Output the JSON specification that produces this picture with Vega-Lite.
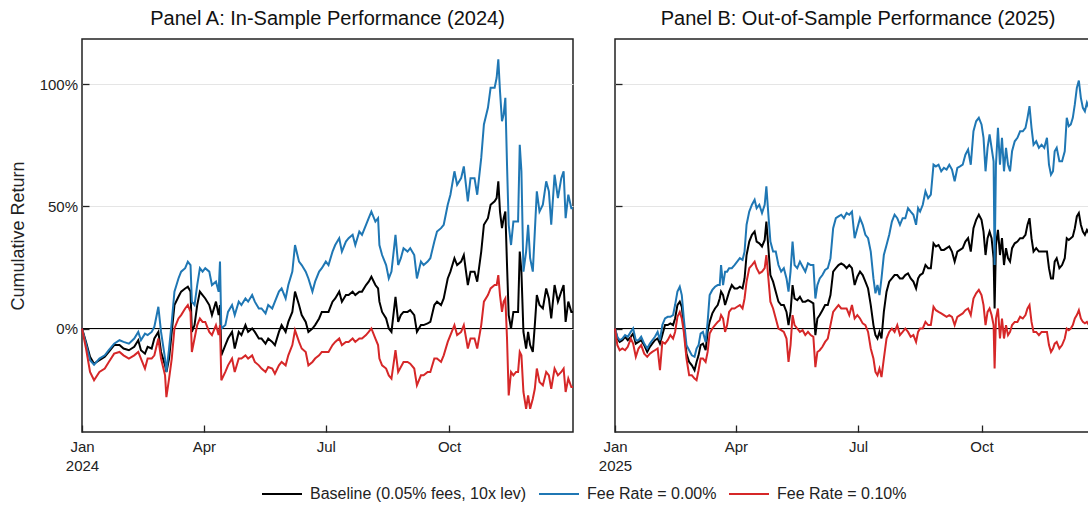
{
  "$schema": "https://vega.github.io/schema/vega-lite/v6.json",
  "padding": {"left": 8, "top": 8, "right": 0, "bottom": 0},
  "config": {
    "font": "Liberation Sans",
    "view": {"stroke": "#222222", "strokeWidth": 1.5},
    "axis": {"labelFont": "Liberation Sans", "labelFontSize": 15, "labelColor": "#222222", "titleFont": "Liberation Sans", "titleFontSize": 18, "titleFontWeight": "normal", "titleColor": "#222222", "tickColor": "#222222", "tickSize": -7, "tickWidth": 1.3, "domain": false, "gridColor": "#e5e5e5", "gridWidth": 1},
    "axisY": {"labelPadding": 11.5},
    "axisX": {"labelPadding": 14, "labelLineHeight": 19, "labelFlush": false},
    "title": {"font": "Liberation Sans", "fontSize": 20, "fontWeight": "normal", "color": "#111111", "anchor": "middle", "offset": 10},
    "legend": {"symbolType": "stroke", "symbolSize": 1600, "symbolStrokeWidth": 2, "labelFont": "Liberation Sans", "labelFontSize": 16, "labelColor": "#222222", "labelOffset": 7, "columnPadding": 8, "labelLimit": 400},
    "concat": {"spacing": 19}
  },
  "datasets": {
    "a": [
      {"t":"2024-01-01T00:00","base":0,"fee0":0,"fee10":0},
      {"t":"2024-01-04T00:00","base":-5.5,"fee0":-6.2,"fee10":-8.2},
      {"t":"2024-01-07T00:00","base":-11.6,"fee0":-13.0,"fee10":-17.8},
      {"t":"2024-01-10T00:00","base":-14.4,"fee0":-14.8,"fee10":-21.2},
      {"t":"2024-01-14T00:00","base":-13.0,"fee0":-12.3,"fee10":-17.8},
      {"t":"2024-01-18T00:00","base":-11.6,"fee0":-11.0,"fee10":-16.4},
      {"t":"2024-01-21T00:00","base":-9.6,"fee0":-8.9,"fee10":-13.7},
      {"t":"2024-01-25T00:00","base":-6.8,"fee0":-6.2,"fee10":-10.3},
      {"t":"2024-01-29T00:00","base":-6.8,"fee0":-4.8,"fee10":-9.6},
      {"t":"2024-02-01T00:00","base":-8.2,"fee0":-5.5,"fee10":-11.0},
      {"t":"2024-02-05T00:00","base":-8.9,"fee0":-6.2,"fee10":-12.3},
      {"t":"2024-02-09T00:00","base":-7.5,"fee0":-4.1,"fee10":-11.0},
      {"t":"2024-02-12T00:00","base":-4.8,"fee0":-1.4,"fee10":-9.6},
      {"t":"2024-02-14T00:00","base":-8.9,"fee0":-4.8,"fee10":-12.3},
      {"t":"2024-02-17T00:00","base":-10.3,"fee0":-2.1,"fee10":-16.4},
      {"t":"2024-02-19T00:00","base":-7.5,"fee0":-2.7,"fee10":-12.3},
      {"t":"2024-02-22T00:00","base":-8.2,"fee0":-1.4,"fee10":-12.3},
      {"t":"2024-02-24T00:00","base":-4.1,"fee0":0.7,"fee10":-11.0},
      {"t":"2024-02-27T00:00","base":-1.4,"fee0":8.9,"fee10":-4.1},
      {"t":"2024-02-29T00:00","base":-9.6,"fee0":-1.4,"fee10":-12.3},
      {"t":"2024-03-03T00:00","base":-15.1,"fee0":-12.3,"fee10":-19.2},
      {"t":"2024-03-04T00:00","base":-17.8,"fee0":-17.8,"fee10":-28.1},
      {"t":"2024-03-06T00:00","base":-12.3,"fee0":-8.2,"fee10":-20.5},
      {"t":"2024-03-08T00:00","base":-1.4,"fee0":2.7,"fee10":-12.3},
      {"t":"2024-03-10T00:00","base":9.6,"fee0":15.1,"fee10":0},
      {"t":"2024-03-13T00:00","base":13.0,"fee0":20.5,"fee10":4.1},
      {"t":"2024-03-15T00:00","base":15.1,"fee0":23.3,"fee10":5.5},
      {"t":"2024-03-18T00:00","base":16.4,"fee0":24.7,"fee10":8.2},
      {"t":"2024-03-20T00:00","base":17.1,"fee0":27.4,"fee10":9.6},
      {"t":"2024-03-22T00:00","base":15.1,"fee0":26.0,"fee10":6.8},
      {"t":"2024-03-23T00:00","base":-1.4,"fee0":11.0,"fee10":-9.6},
      {"t":"2024-03-25T00:00","base":1.4,"fee0":9.6,"fee10":-4.1},
      {"t":"2024-03-27T00:00","base":9.6,"fee0":17.8,"fee10":1.4},
      {"t":"2024-03-29T00:00","base":15.1,"fee0":24.7,"fee10":4.1},
      {"t":"2024-03-31T00:00","base":13.7,"fee0":23.3,"fee10":2.7},
      {"t":"2024-04-02T00:00","base":12.3,"fee0":24.7,"fee10":2.7},
      {"t":"2024-04-05T00:00","base":9.6,"fee0":23.3,"fee10":-1.4},
      {"t":"2024-04-07T00:00","base":5.5,"fee0":17.8,"fee10":-2.7},
      {"t":"2024-04-10T00:00","base":11.0,"fee0":19.2,"fee10":1.4},
      {"t":"2024-04-12T00:00","base":5.5,"fee0":15.1,"fee10":-2.7},
      {"t":"2024-04-13T00:00","base":9.6,"fee0":27.4,"fee10":1.4},
      {"t":"2024-04-14T00:00","base":-11.0,"fee0":0,"fee10":-21.2},
      {"t":"2024-04-17T00:00","base":-6.8,"fee0":1.4,"fee10":-17.8},
      {"t":"2024-04-19T00:00","base":-4.1,"fee0":6.8,"fee10":-15.1},
      {"t":"2024-04-22T00:00","base":-1.4,"fee0":9.6,"fee10":-12.3},
      {"t":"2024-04-24T00:00","base":-8.2,"fee0":5.5,"fee10":-17.8},
      {"t":"2024-04-27T00:00","base":-1.4,"fee0":11.0,"fee10":-12.3},
      {"t":"2024-04-29T00:00","base":-2.7,"fee0":9.6,"fee10":-12.3},
      {"t":"2024-05-02T00:00","base":1.4,"fee0":12.3,"fee10":-11.0},
      {"t":"2024-05-04T00:00","base":-1.4,"fee0":11.0,"fee10":-12.3},
      {"t":"2024-05-07T00:00","base":0,"fee0":13.7,"fee10":-11.0},
      {"t":"2024-05-09T00:00","base":-1.4,"fee0":11.0,"fee10":-13.7},
      {"t":"2024-05-12T00:00","base":-4.1,"fee0":8.2,"fee10":-15.1},
      {"t":"2024-05-14T00:00","base":-4.1,"fee0":8.2,"fee10":-16.4},
      {"t":"2024-05-17T00:00","base":-6.2,"fee0":6.2,"fee10":-17.8},
      {"t":"2024-05-19T00:00","base":-4.1,"fee0":9.6,"fee10":-15.8},
      {"t":"2024-05-22T00:00","base":-5.5,"fee0":8.2,"fee10":-16.4},
      {"t":"2024-05-24T00:00","base":-6.8,"fee0":11.0,"fee10":-18.5},
      {"t":"2024-05-27T00:00","base":-1.4,"fee0":15.1,"fee10":-15.1},
      {"t":"2024-05-29T00:00","base":1.4,"fee0":16.4,"fee10":-13.7},
      {"t":"2024-06-01T00:00","base":-1.4,"fee0":12.3,"fee10":-15.1},
      {"t":"2024-06-03T00:00","base":2.7,"fee0":17.8,"fee10":-11.0},
      {"t":"2024-06-06T00:00","base":6.8,"fee0":23.3,"fee10":-6.8},
      {"t":"2024-06-08T00:00","base":15.1,"fee0":34.2,"fee10":-0.7},
      {"t":"2024-06-11T00:00","base":9.6,"fee0":27.4,"fee10":-5.5},
      {"t":"2024-06-13T00:00","base":5.5,"fee0":26.0,"fee10":-8.2},
      {"t":"2024-06-16T00:00","base":2.7,"fee0":23.3,"fee10":-9.6},
      {"t":"2024-06-18T00:00","base":-1.4,"fee0":20.5,"fee10":-15.1},
      {"t":"2024-06-21T00:00","base":0,"fee0":15.1,"fee10":-13.7},
      {"t":"2024-06-23T00:00","base":1.4,"fee0":19.2,"fee10":-12.3},
      {"t":"2024-06-26T00:00","base":4.1,"fee0":23.3,"fee10":-11.0},
      {"t":"2024-06-28T00:00","base":6.8,"fee0":24.7,"fee10":-9.6},
      {"t":"2024-07-01T00:00","base":6.8,"fee0":27.4,"fee10":-9.6},
      {"t":"2024-07-03T00:00","base":6.8,"fee0":26.0,"fee10":-9.6},
      {"t":"2024-07-06T00:00","base":11.0,"fee0":31.5,"fee10":-6.8},
      {"t":"2024-07-08T00:00","base":12.3,"fee0":34.2,"fee10":-5.5},
      {"t":"2024-07-11T00:00","base":15.1,"fee0":37.0,"fee10":-4.1},
      {"t":"2024-07-13T00:00","base":11.0,"fee0":31.5,"fee10":-6.8},
      {"t":"2024-07-16T00:00","base":13.7,"fee0":35.6,"fee10":-5.5},
      {"t":"2024-07-18T00:00","base":13.7,"fee0":37.0,"fee10":-5.5},
      {"t":"2024-07-21T00:00","base":15.1,"fee0":38.4,"fee10":-4.1},
      {"t":"2024-07-23T00:00","base":13.7,"fee0":34.2,"fee10":-5.5},
      {"t":"2024-07-26T00:00","base":15.1,"fee0":39.7,"fee10":-4.1},
      {"t":"2024-07-28T00:00","base":15.1,"fee0":38.4,"fee10":-4.1},
      {"t":"2024-07-31T00:00","base":17.8,"fee0":42.5,"fee10":-2.7},
      {"t":"2024-08-02T00:00","base":19.2,"fee0":45.2,"fee10":-1.4},
      {"t":"2024-08-04T00:00","base":21.2,"fee0":47.9,"fee10":0},
      {"t":"2024-08-07T00:00","base":17.8,"fee0":43.8,"fee10":-4.1},
      {"t":"2024-08-09T00:00","base":16.4,"fee0":45.2,"fee10":-6.8},
      {"t":"2024-08-10T00:00","base":11.0,"fee0":34.2,"fee10":-12.3},
      {"t":"2024-08-12T00:00","base":6.8,"fee0":30.1,"fee10":-15.1},
      {"t":"2024-08-15T00:00","base":4.1,"fee0":26.0,"fee10":-16.4},
      {"t":"2024-08-17T00:00","base":0,"fee0":20.5,"fee10":-19.2},
      {"t":"2024-08-19T00:00","base":-1.4,"fee0":23.3,"fee10":-20.5},
      {"t":"2024-08-22T00:00","base":13.0,"fee0":38.4,"fee10":-8.9},
      {"t":"2024-08-24T00:00","base":2.7,"fee0":26.0,"fee10":-17.8},
      {"t":"2024-08-26T00:00","base":5.5,"fee0":28.8,"fee10":-15.8},
      {"t":"2024-08-28T00:00","base":6.8,"fee0":32.9,"fee10":-13.7},
      {"t":"2024-08-31T00:00","base":6.8,"fee0":31.5,"fee10":-13.7},
      {"t":"2024-09-02T00:00","base":7.5,"fee0":32.9,"fee10":-14.4},
      {"t":"2024-09-05T00:00","base":5.5,"fee0":30.1,"fee10":-16.4},
      {"t":"2024-09-07T00:00","base":-1.4,"fee0":20.5,"fee10":-23.3},
      {"t":"2024-09-10T00:00","base":1.4,"fee0":27.4,"fee10":-19.2},
      {"t":"2024-09-12T00:00","base":1.4,"fee0":26.0,"fee10":-19.2},
      {"t":"2024-09-15T00:00","base":2.1,"fee0":27.4,"fee10":-17.8},
      {"t":"2024-09-17T00:00","base":2.7,"fee0":28.8,"fee10":-17.8},
      {"t":"2024-09-20T00:00","base":9.6,"fee0":35.6,"fee10":-12.3},
      {"t":"2024-09-22T00:00","base":11.0,"fee0":39.7,"fee10":-12.3},
      {"t":"2024-09-25T00:00","base":9.6,"fee0":41.1,"fee10":-13.7},
      {"t":"2024-09-27T00:00","base":12.3,"fee0":42.5,"fee10":-11.0},
      {"t":"2024-09-30T00:00","base":20.5,"fee0":50.7,"fee10":-5.5},
      {"t":"2024-10-02T00:00","base":23.3,"fee0":54.8,"fee10":-2.7},
      {"t":"2024-10-05T00:00","base":28.8,"fee0":64.4,"fee10":1.4},
      {"t":"2024-10-07T00:00","base":26.0,"fee0":58.9,"fee10":-2.7},
      {"t":"2024-10-10T00:00","base":27.4,"fee0":61.6,"fee10":-1.4},
      {"t":"2024-10-12T00:00","base":30.1,"fee0":66.4,"fee10":1.4},
      {"t":"2024-10-15T00:00","base":17.8,"fee0":52.1,"fee10":-8.2},
      {"t":"2024-10-17T00:00","base":23.3,"fee0":61.6,"fee10":-4.1},
      {"t":"2024-10-20T00:00","base":23.3,"fee0":61.6,"fee10":-4.1},
      {"t":"2024-10-22T00:00","base":19.2,"fee0":54.8,"fee10":-8.2},
      {"t":"2024-10-25T00:00","base":31.5,"fee0":69.9,"fee10":1.4},
      {"t":"2024-10-27T00:00","base":42.5,"fee0":83.6,"fee10":11.0},
      {"t":"2024-10-30T00:00","base":45.2,"fee0":90.4,"fee10":13.7},
      {"t":"2024-11-01T00:00","base":50.7,"fee0":98.6,"fee10":16.4},
      {"t":"2024-11-04T00:00","base":52.1,"fee0":98.6,"fee10":17.8},
      {"t":"2024-11-05T12:00","base":53.4,"fee0":102.7,"fee10":17.8},
      {"t":"2024-11-06T18:00","base":60.3,"fee0":110.3,"fee10":21.9},
      {"t":"2024-11-08T00:00","base":47.9,"fee0":97.3,"fee10":13.7},
      {"t":"2024-11-09T12:00","base":41.1,"fee0":84.9,"fee10":6.8},
      {"t":"2024-11-10T18:00","base":45.2,"fee0":87.7,"fee10":11.0},
      {"t":"2024-11-12T00:00","base":47.9,"fee0":94.5,"fee10":12.3},
      {"t":"2024-11-13T06:00","base":26.0,"fee0":67.1,"fee10":-4.1},
      {"t":"2024-11-14T12:00","base":5.5,"fee0":42.5,"fee10":-27.4},
      {"t":"2024-11-16T06:00","base":0,"fee0":34.2,"fee10":-17.8},
      {"t":"2024-11-18T00:00","base":6.8,"fee0":43.8,"fee10":-19.2},
      {"t":"2024-11-20T00:00","base":6.8,"fee0":43.8,"fee10":-17.8},
      {"t":"2024-11-21T12:00","base":6.8,"fee0":43.8,"fee10":-17.8},
      {"t":"2024-11-22T18:00","base":31.5,"fee0":75.3,"fee10":-9.6},
      {"t":"2024-11-24T00:00","base":23.3,"fee0":64.4,"fee10":-11.0},
      {"t":"2024-11-25T12:00","base":-1.4,"fee0":23.3,"fee10":-26.0},
      {"t":"2024-11-27T12:00","base":-8.2,"fee0":31.5,"fee10":-32.9},
      {"t":"2024-11-29T00:00","base":-1.4,"fee0":42.5,"fee10":-27.4},
      {"t":"2024-11-30T12:00","base":-6.8,"fee0":28.8,"fee10":-32.9},
      {"t":"2024-12-02T12:00","base":-9.6,"fee0":23.3,"fee10":-28.8},
      {"t":"2024-12-04T00:00","base":1.4,"fee0":39.7,"fee10":-24.7},
      {"t":"2024-12-05T12:00","base":13.7,"fee0":56.2,"fee10":-16.4},
      {"t":"2024-12-07T12:00","base":9.6,"fee0":47.9,"fee10":-21.9},
      {"t":"2024-12-10T00:00","base":8.2,"fee0":50.7,"fee10":-23.3},
      {"t":"2024-12-12T12:00","base":16.4,"fee0":60.3,"fee10":-17.8},
      {"t":"2024-12-14T12:00","base":12.3,"fee0":56.2,"fee10":-19.2},
      {"t":"2024-12-16T06:00","base":4.1,"fee0":42.5,"fee10":-24.7},
      {"t":"2024-12-18T18:00","base":17.8,"fee0":63.0,"fee10":-16.4},
      {"t":"2024-12-21T06:00","base":11.0,"fee0":53.4,"fee10":-19.2},
      {"t":"2024-12-23T18:00","base":15.1,"fee0":61.6,"fee10":-17.8},
      {"t":"2024-12-25T12:00","base":17.8,"fee0":64.4,"fee10":-16.4},
      {"t":"2024-12-27T00:00","base":2.7,"fee0":45.2,"fee10":-26.0},
      {"t":"2024-12-29T00:00","base":11.0,"fee0":54.8,"fee10":-20.5},
      {"t":"2024-12-31T06:00","base":6.8,"fee0":49.3,"fee10":-24.0},
      {"t":"2025-01-01T12:00","base":6.8,"fee0":49.3,"fee10":-24.0}
    ],
    "b": [
      {"t":"2025-01-01T00:00","base":0,"fee0":0,"fee10":0},
      {"t":"2025-01-02T18:00","base":-4.1,"fee0":-3.4,"fee10":-6.8},
      {"t":"2025-01-04T12:00","base":-5.5,"fee0":-4.8,"fee10":-8.9},
      {"t":"2025-01-06T12:00","base":-4.8,"fee0":-4.1,"fee10":-8.2},
      {"t":"2025-01-08T12:00","base":-3.4,"fee0":-2.7,"fee10":-8.9},
      {"t":"2025-01-10T12:00","base":-4.8,"fee0":-3.4,"fee10":-7.5},
      {"t":"2025-01-12T18:00","base":-3.4,"fee0":-1.4,"fee10":-4.1},
      {"t":"2025-01-14T12:00","base":-2.1,"fee0":0,"fee10":-6.2},
      {"t":"2025-01-16T12:00","base":-6.2,"fee0":-4.8,"fee10":-11.6},
      {"t":"2025-01-18T12:00","base":-5.5,"fee0":-4.8,"fee10":-8.2},
      {"t":"2025-01-20T12:00","base":-4.8,"fee0":-3.4,"fee10":-6.8},
      {"t":"2025-01-22T18:00","base":-6.8,"fee0":-6.2,"fee10":-10.3},
      {"t":"2025-01-25T00:00","base":-9.6,"fee0":-8.2,"fee10":-11.6},
      {"t":"2025-01-27T00:00","base":-7.5,"fee0":-6.2,"fee10":-10.3},
      {"t":"2025-01-28T18:00","base":-6.2,"fee0":-4.8,"fee10":-9.6},
      {"t":"2025-01-30T18:00","base":-4.8,"fee0":-3.4,"fee10":-8.9},
      {"t":"2025-02-01T18:00","base":-4.1,"fee0":-1.4,"fee10":-8.2},
      {"t":"2025-02-03T12:00","base":-6.2,"fee0":-4.8,"fee10":-17.1},
      {"t":"2025-02-05T06:00","base":-2.7,"fee0":1.4,"fee10":-5.5},
      {"t":"2025-02-07T06:00","base":1.4,"fee0":4.1,"fee10":-6.2},
      {"t":"2025-02-09T06:00","base":1.4,"fee0":4.8,"fee10":-4.8},
      {"t":"2025-02-11T06:00","base":2.1,"fee0":4.8,"fee10":-2.7},
      {"t":"2025-02-13T06:00","base":1.4,"fee0":5.5,"fee10":-4.1},
      {"t":"2025-02-14T18:00","base":4.1,"fee0":9.6,"fee10":-1.4},
      {"t":"2025-02-16T12:00","base":9.6,"fee0":15.1,"fee10":4.8},
      {"t":"2025-02-18T06:00","base":11.0,"fee0":17.1,"fee10":6.8},
      {"t":"2025-02-19T18:00","base":8.9,"fee0":13.7,"fee10":4.1},
      {"t":"2025-02-21T06:00","base":1.4,"fee0":4.1,"fee10":-1.4},
      {"t":"2025-02-23T06:00","base":-10.3,"fee0":-6.8,"fee10":-12.3},
      {"t":"2025-02-25T06:00","base":-13.7,"fee0":-8.9,"fee10":-19.2},
      {"t":"2025-02-27T06:00","base":-15.1,"fee0":-11.0,"fee10":-19.2},
      {"t":"2025-03-01T06:00","base":-17.1,"fee0":-11.6,"fee10":-20.5},
      {"t":"2025-03-02T18:00","base":-13.7,"fee0":-8.2,"fee10":-21.2},
      {"t":"2025-03-04T06:00","base":-11.0,"fee0":-6.8,"fee10":-17.1},
      {"t":"2025-03-05T18:00","base":-6.8,"fee0":-2.1,"fee10":-12.3},
      {"t":"2025-03-07T12:00","base":-6.2,"fee0":-1.4,"fee10":-12.3},
      {"t":"2025-03-09T12:00","base":-8.9,"fee0":-5.5,"fee10":-13.7},
      {"t":"2025-03-11T00:00","base":-1.4,"fee0":2.7,"fee10":-9.6},
      {"t":"2025-03-12T12:00","base":2.7,"fee0":13.7,"fee10":-2.1},
      {"t":"2025-03-14T12:00","base":6.2,"fee0":15.8,"fee10":0},
      {"t":"2025-03-16T12:00","base":8.2,"fee0":17.1,"fee10":1.4},
      {"t":"2025-03-18T12:00","base":9.6,"fee0":17.8,"fee10":2.7},
      {"t":"2025-03-20T00:00","base":12.3,"fee0":17.8,"fee10":3.4},
      {"t":"2025-03-21T00:00","base":15.1,"fee0":26.0,"fee10":5.5},
      {"t":"2025-03-22T12:00","base":13.7,"fee0":17.8,"fee10":4.1},
      {"t":"2025-03-24T00:00","base":9.6,"fee0":23.3,"fee10":-1.4},
      {"t":"2025-03-25T12:00","base":12.3,"fee0":23.3,"fee10":1.4},
      {"t":"2025-03-27T00:00","base":15.1,"fee0":24.7,"fee10":6.8},
      {"t":"2025-03-29T00:00","base":17.8,"fee0":24.7,"fee10":8.2},
      {"t":"2025-03-31T00:00","base":16.4,"fee0":26.0,"fee10":8.2},
      {"t":"2025-04-02T00:00","base":16.4,"fee0":27.4,"fee10":8.9},
      {"t":"2025-04-04T00:00","base":17.1,"fee0":28.8,"fee10":9.6},
      {"t":"2025-04-06T00:00","base":16.4,"fee0":28.1,"fee10":8.2},
      {"t":"2025-04-07T12:00","base":20.5,"fee0":31.5,"fee10":12.3},
      {"t":"2025-04-09T00:00","base":30.1,"fee0":42.5,"fee10":19.2},
      {"t":"2025-04-11T00:00","base":35.6,"fee0":47.9,"fee10":24.7},
      {"t":"2025-04-13T00:00","base":38.4,"fee0":50.7,"fee10":26.0},
      {"t":"2025-04-15T00:00","base":39.7,"fee0":52.7,"fee10":27.4},
      {"t":"2025-04-16T12:00","base":35.6,"fee0":49.3,"fee10":24.7},
      {"t":"2025-04-18T12:00","base":34.9,"fee0":50.7,"fee10":22.6},
      {"t":"2025-04-20T12:00","base":33.6,"fee0":47.3,"fee10":23.3},
      {"t":"2025-04-22T12:00","base":36.3,"fee0":50.7,"fee10":24.7},
      {"t":"2025-04-23T18:00","base":43.8,"fee0":58.2,"fee10":30.1},
      {"t":"2025-04-25T06:00","base":32.9,"fee0":46.6,"fee10":20.5},
      {"t":"2025-04-26T18:00","base":21.9,"fee0":35.6,"fee10":11.0},
      {"t":"2025-04-28T18:00","base":19.2,"fee0":31.5,"fee10":8.2},
      {"t":"2025-04-30T18:00","base":15.1,"fee0":31.5,"fee10":4.1},
      {"t":"2025-05-02T18:00","base":11.0,"fee0":26.0,"fee10":0},
      {"t":"2025-05-04T18:00","base":9.6,"fee0":23.3,"fee10":-0.7},
      {"t":"2025-05-06T18:00","base":9.6,"fee0":24.7,"fee10":-1.4},
      {"t":"2025-05-08T18:00","base":6.8,"fee0":20.5,"fee10":-4.1},
      {"t":"2025-05-10T06:00","base":1.4,"fee0":15.1,"fee10":-13.7},
      {"t":"2025-05-11T18:00","base":6.8,"fee0":23.3,"fee10":-6.8},
      {"t":"2025-05-13T06:00","base":17.8,"fee0":35.6,"fee10":5.5},
      {"t":"2025-05-14T18:00","base":12.3,"fee0":26.0,"fee10":1.4},
      {"t":"2025-05-16T18:00","base":11.6,"fee0":24.7,"fee10":0},
      {"t":"2025-05-18T18:00","base":13.0,"fee0":27.4,"fee10":-1.4},
      {"t":"2025-05-20T18:00","base":11.0,"fee0":25.3,"fee10":-0.7},
      {"t":"2025-05-22T18:00","base":11.0,"fee0":23.3,"fee10":-2.7},
      {"t":"2025-05-24T18:00","base":11.6,"fee0":26.7,"fee10":-1.4},
      {"t":"2025-05-26T18:00","base":11.0,"fee0":26.0,"fee10":-2.7},
      {"t":"2025-05-28T18:00","base":10.3,"fee0":26.0,"fee10":-3.4},
      {"t":"2025-05-30T06:00","base":-2.7,"fee0":12.3,"fee10":-15.8},
      {"t":"2025-05-31T18:00","base":4.1,"fee0":17.8,"fee10":-9.6},
      {"t":"2025-06-02T12:00","base":5.5,"fee0":20.5,"fee10":-8.9},
      {"t":"2025-06-04T12:00","base":7.5,"fee0":21.9,"fee10":-7.5},
      {"t":"2025-06-06T12:00","base":9.6,"fee0":24.0,"fee10":-5.5},
      {"t":"2025-06-08T12:00","base":9.6,"fee0":24.7,"fee10":-4.1},
      {"t":"2025-06-10T12:00","base":13.7,"fee0":28.8,"fee10":1.4},
      {"t":"2025-06-12T12:00","base":23.3,"fee0":41.1,"fee10":6.8},
      {"t":"2025-06-14T12:00","base":24.7,"fee0":45.2,"fee10":8.2},
      {"t":"2025-06-16T12:00","base":26.0,"fee0":45.9,"fee10":9.6},
      {"t":"2025-06-18T12:00","base":26.7,"fee0":46.6,"fee10":8.2},
      {"t":"2025-06-20T12:00","base":26.0,"fee0":45.2,"fee10":8.2},
      {"t":"2025-06-22T12:00","base":24.7,"fee0":47.3,"fee10":8.2},
      {"t":"2025-06-24T12:00","base":26.0,"fee0":46.6,"fee10":5.5},
      {"t":"2025-06-26T12:00","base":24.7,"fee0":47.9,"fee10":9.6},
      {"t":"2025-06-28T12:00","base":17.8,"fee0":37.0,"fee10":4.1},
      {"t":"2025-06-30T12:00","base":21.2,"fee0":41.1,"fee10":5.5},
      {"t":"2025-07-02T12:00","base":23.3,"fee0":45.2,"fee10":4.1},
      {"t":"2025-07-04T12:00","base":21.9,"fee0":42.5,"fee10":2.1},
      {"t":"2025-07-06T12:00","base":19.2,"fee0":38.4,"fee10":1.4},
      {"t":"2025-07-08T12:00","base":16.4,"fee0":37.0,"fee10":-1.4},
      {"t":"2025-07-10T12:00","base":9.6,"fee0":31.5,"fee10":-8.2},
      {"t":"2025-07-12T12:00","base":1.4,"fee0":20.5,"fee10":-12.3},
      {"t":"2025-07-14T00:00","base":-2.7,"fee0":14.4,"fee10":-17.8},
      {"t":"2025-07-15T12:00","base":-4.1,"fee0":17.8,"fee10":-19.2},
      {"t":"2025-07-17T00:00","base":-1.4,"fee0":13.7,"fee10":-16.4},
      {"t":"2025-07-18T12:00","base":-4.1,"fee0":20.5,"fee10":-19.9},
      {"t":"2025-07-20T06:00","base":6.8,"fee0":30.1,"fee10":-12.3},
      {"t":"2025-07-22T06:00","base":15.1,"fee0":34.2,"fee10":-4.1},
      {"t":"2025-07-24T06:00","base":19.2,"fee0":38.4,"fee10":-1.4},
      {"t":"2025-07-26T06:00","base":20.5,"fee0":43.8,"fee10":0},
      {"t":"2025-07-28T06:00","base":21.9,"fee0":46.6,"fee10":-1.4},
      {"t":"2025-07-30T06:00","base":21.9,"fee0":45.2,"fee10":1.4},
      {"t":"2025-08-01T06:00","base":20.5,"fee0":42.5,"fee10":-2.7},
      {"t":"2025-08-03T06:00","base":20.5,"fee0":45.2,"fee10":-1.4},
      {"t":"2025-08-05T06:00","base":21.9,"fee0":45.2,"fee10":0},
      {"t":"2025-08-07T06:00","base":22.6,"fee0":49.3,"fee10":-1.4},
      {"t":"2025-08-09T06:00","base":20.5,"fee0":47.9,"fee10":-3.4},
      {"t":"2025-08-11T06:00","base":19.2,"fee0":46.6,"fee10":-2.7},
      {"t":"2025-08-13T06:00","base":16.4,"fee0":42.5,"fee10":-5.5},
      {"t":"2025-08-14T18:00","base":20.5,"fee0":49.3,"fee10":-1.4},
      {"t":"2025-08-16T06:00","base":21.9,"fee0":47.9,"fee10":0},
      {"t":"2025-08-18T06:00","base":22.6,"fee0":50.7,"fee10":0},
      {"t":"2025-08-20T06:00","base":26.0,"fee0":56.2,"fee10":2.7},
      {"t":"2025-08-22T06:00","base":24.7,"fee0":53.4,"fee10":1.4},
      {"t":"2025-08-24T06:00","base":24.7,"fee0":54.8,"fee10":1.4},
      {"t":"2025-08-26T06:00","base":34.9,"fee0":67.1,"fee10":8.9},
      {"t":"2025-08-28T00:00","base":33.6,"fee0":66.4,"fee10":7.5},
      {"t":"2025-08-30T00:00","base":34.2,"fee0":67.1,"fee10":6.8},
      {"t":"2025-09-01T00:00","base":32.2,"fee0":64.4,"fee10":6.2},
      {"t":"2025-09-03T00:00","base":32.2,"fee0":65.8,"fee10":5.5},
      {"t":"2025-09-05T00:00","base":32.9,"fee0":65.1,"fee10":4.8},
      {"t":"2025-09-07T00:00","base":33.6,"fee0":67.1,"fee10":5.5},
      {"t":"2025-09-09T00:00","base":31.5,"fee0":65.1,"fee10":4.8},
      {"t":"2025-09-11T00:00","base":27.4,"fee0":60.3,"fee10":1.4},
      {"t":"2025-09-13T00:00","base":31.5,"fee0":65.8,"fee10":4.8},
      {"t":"2025-09-15T00:00","base":32.2,"fee0":66.4,"fee10":5.5},
      {"t":"2025-09-17T00:00","base":32.9,"fee0":67.1,"fee10":6.2},
      {"t":"2025-09-19T00:00","base":35.6,"fee0":71.2,"fee10":7.5},
      {"t":"2025-09-21T00:00","base":37.0,"fee0":73.3,"fee10":8.2},
      {"t":"2025-09-23T00:00","base":31.5,"fee0":67.1,"fee10":5.5},
      {"t":"2025-09-25T00:00","base":41.1,"fee0":80.8,"fee10":12.3},
      {"t":"2025-09-27T00:00","base":44.5,"fee0":84.9,"fee10":14.4},
      {"t":"2025-09-29T00:00","base":46.6,"fee0":86.3,"fee10":15.8},
      {"t":"2025-10-01T00:00","base":44.5,"fee0":83.6,"fee10":13.7},
      {"t":"2025-10-02T12:00","base":39.7,"fee0":78.1,"fee10":9.6},
      {"t":"2025-10-04T00:00","base":30.1,"fee0":64.4,"fee10":1.4},
      {"t":"2025-10-05T12:00","base":37.0,"fee0":74.0,"fee10":6.8},
      {"t":"2025-10-07T00:00","base":39.7,"fee0":79.5,"fee10":8.2},
      {"t":"2025-10-08T12:00","base":37.0,"fee0":74.0,"fee10":5.5},
      {"t":"2025-10-10T00:00","base":28.8,"fee0":68.5,"fee10":1.4},
      {"t":"2025-10-10T18:00","base":8.2,"fee0":26.0,"fee10":-16.4},
      {"t":"2025-10-11T18:00","base":34.2,"fee0":67.1,"fee10":4.1},
      {"t":"2025-10-13T06:00","base":40.4,"fee0":82.2,"fee10":8.2},
      {"t":"2025-10-14T18:00","base":30.1,"fee0":67.1,"fee10":-4.1},
      {"t":"2025-10-16T06:00","base":37.0,"fee0":78.1,"fee10":4.1},
      {"t":"2025-10-17T18:00","base":26.0,"fee0":64.4,"fee10":-4.1},
      {"t":"2025-10-19T06:00","base":32.9,"fee0":74.0,"fee10":1.4},
      {"t":"2025-10-20T18:00","base":28.8,"fee0":67.1,"fee10":-2.7},
      {"t":"2025-10-22T06:00","base":27.4,"fee0":64.4,"fee10":-1.4},
      {"t":"2025-10-23T18:00","base":32.9,"fee0":72.6,"fee10":1.4},
      {"t":"2025-10-25T18:00","base":34.9,"fee0":76.7,"fee10":2.7},
      {"t":"2025-10-27T18:00","base":35.6,"fee0":78.1,"fee10":2.7},
      {"t":"2025-10-29T18:00","base":37.0,"fee0":80.8,"fee10":4.8},
      {"t":"2025-10-31T18:00","base":37.0,"fee0":80.8,"fee10":4.1},
      {"t":"2025-11-02T18:00","base":38.4,"fee0":82.2,"fee10":5.5},
      {"t":"2025-11-04T06:00","base":42.5,"fee0":86.3,"fee10":8.2},
      {"t":"2025-11-05T18:00","base":45.2,"fee0":91.1,"fee10":9.6},
      {"t":"2025-11-07T06:00","base":37.0,"fee0":82.2,"fee10":2.7},
      {"t":"2025-11-08T18:00","base":31.5,"fee0":75.3,"fee10":-1.4},
      {"t":"2025-11-10T18:00","base":32.9,"fee0":76.7,"fee10":-1.4},
      {"t":"2025-11-12T18:00","base":31.5,"fee0":74.0,"fee10":-2.7},
      {"t":"2025-11-14T18:00","base":31.5,"fee0":75.3,"fee10":-1.4},
      {"t":"2025-11-16T18:00","base":31.5,"fee0":74.0,"fee10":-1.4},
      {"t":"2025-11-18T18:00","base":31.5,"fee0":78.1,"fee10":-1.4},
      {"t":"2025-11-20T06:00","base":24.7,"fee0":67.1,"fee10":-6.8},
      {"t":"2025-11-21T18:00","base":20.5,"fee0":63.0,"fee10":-9.6},
      {"t":"2025-11-23T06:00","base":20.5,"fee0":64.4,"fee10":-8.2},
      {"t":"2025-11-24T12:00","base":27.4,"fee0":72.6,"fee10":-6.2},
      {"t":"2025-11-26T00:00","base":28.8,"fee0":74.0,"fee10":-5.5},
      {"t":"2025-11-28T00:00","base":24.7,"fee0":68.5,"fee10":-8.2},
      {"t":"2025-11-30T00:00","base":26.0,"fee0":68.5,"fee10":-6.8},
      {"t":"2025-12-02T00:00","base":28.8,"fee0":72.6,"fee10":-4.1},
      {"t":"2025-12-03T12:00","base":37.0,"fee0":86.3,"fee10":0},
      {"t":"2025-12-05T00:00","base":36.3,"fee0":82.9,"fee10":-0.7},
      {"t":"2025-12-06T12:00","base":37.0,"fee0":83.6,"fee10":0},
      {"t":"2025-12-08T00:00","base":37.7,"fee0":86.3,"fee10":1.4},
      {"t":"2025-12-09T12:00","base":41.1,"fee0":91.8,"fee10":4.1},
      {"t":"2025-12-11T00:00","base":45.9,"fee0":98.6,"fee10":5.5},
      {"t":"2025-12-12T12:00","base":47.3,"fee0":101.6,"fee10":7.5},
      {"t":"2025-12-14T00:00","base":42.5,"fee0":94.5,"fee10":4.1},
      {"t":"2025-12-15T12:00","base":39.7,"fee0":90.4,"fee10":2.7},
      {"t":"2025-12-17T00:00","base":38.4,"fee0":89.0,"fee10":2.1},
      {"t":"2025-12-18T12:00","base":40.4,"fee0":92.5,"fee10":2.7},
      {"t":"2025-12-20T00:00","base":39.0,"fee0":90.4,"fee10":1.4},
      {"t":"2025-12-21T12:00","base":37.7,"fee0":88.4,"fee10":0.7},
      {"t":"2025-12-23T00:00","base":37.7,"fee0":89.0,"fee10":0},
      {"t":"2025-12-24T12:00","base":34.9,"fee0":85.6,"fee10":-1.4},
      {"t":"2025-12-26T00:00","base":34.2,"fee0":84.9,"fee10":-2.1},
      {"t":"2025-12-28T00:00","base":36.3,"fee0":87.0,"fee10":-1.4},
      {"t":"2025-12-29T00:00","base":35.6,"fee0":86.3,"fee10":-1.6}
    ]
  },
  "hconcat": [
    {
      "width": 491,
      "height": 393,
      "title": "Panel A: In-Sample Performance (2024)",
      "data": {"name": "a"},
      "layer": [
        {
          "mark": {"type": "rule", "color": "#000000", "strokeWidth": 1},
          "encoding": {"y": {"datum": 0, "type": "quantitative", "scale": {"domain": [-42.4, 118.6], "nice": false, "zero": false}, "axis": {"title": "Cumulative Return", "values": [0, 50, 100], "labelExpr": "datum.value + '%'", "grid": true, "titlePadding": 12}}}
        },
        {
          "mark": {"type": "line", "strokeWidth": 2, "color": "#000000"},
          "encoding": {
            "x": {"field": "t", "type": "temporal", "scale": {"nice": false}, "axis": {"title": null, "grid": false, "values": [{"year": 2024, "month": 1, "date": 1}, {"year": 2024, "month": 4, "date": 1}, {"year": 2024, "month": 7, "date": 1}, {"year": 2024, "month": 10, "date": 1}], "labelExpr": "month(datum.value) == 0 ? ['Jan', timeFormat(datum.value, '%Y')] : timeFormat(datum.value, '%b')"}},
            "y": {"field": "base", "type": "quantitative"},
            "color": {"datum": "Baseline (0.05% fees, 10x lev)", "type": "nominal", "scale": {"domain": ["Baseline (0.05% fees, 10x lev)", "Fee Rate = 0.00%", "Fee Rate = 0.10%"], "range": ["#000000", "#1f77b4", "#d62728"]}, "legend": {"orient": "none", "legendX": 179, "legendY": 434, "direction": "horizontal", "title": null}}
          }
        },
        {
          "mark": {"type": "line", "strokeWidth": 2},
          "encoding": {
            "x": {"field": "t", "type": "temporal"},
            "y": {"field": "fee0", "type": "quantitative"},
            "color": {"datum": "Fee Rate = 0.00%", "type": "nominal"}
          }
        },
        {
          "mark": {"type": "line", "strokeWidth": 2},
          "encoding": {
            "x": {"field": "t", "type": "temporal"},
            "y": {"field": "fee10", "type": "quantitative"},
            "color": {"datum": "Fee Rate = 0.10%", "type": "nominal"}
          }
        }
      ]
    },
    {
      "width": 486,
      "height": 393,
      "title": "Panel B: Out-of-Sample Performance (2025)",
      "data": {"name": "b"},
      "layer": [
        {
          "mark": {"type": "rule", "color": "#000000", "strokeWidth": 1},
          "encoding": {"y": {"datum": 0, "type": "quantitative", "scale": {"domain": [-42.4, 118.6], "nice": false, "zero": false}, "axis": {"title": null, "values": [0, 50, 100], "labels": false, "grid": true}}}
        },
        {
          "mark": {"type": "line", "strokeWidth": 2},
          "encoding": {
            "x": {"field": "t", "type": "temporal", "scale": {"nice": false}, "axis": {"title": null, "grid": false, "values": [{"year": 2025, "month": 1, "date": 1}, {"year": 2025, "month": 4, "date": 1}, {"year": 2025, "month": 7, "date": 1}, {"year": 2025, "month": 10, "date": 1}], "labelExpr": "month(datum.value) == 0 ? ['Jan', timeFormat(datum.value, '%Y')] : timeFormat(datum.value, '%b')"}},
            "y": {"field": "base", "type": "quantitative"},
            "color": {"datum": "Baseline (0.05% fees, 10x lev)", "type": "nominal"}
          }
        },
        {
          "mark": {"type": "line", "strokeWidth": 2},
          "encoding": {
            "x": {"field": "t", "type": "temporal"},
            "y": {"field": "fee0", "type": "quantitative"},
            "color": {"datum": "Fee Rate = 0.00%", "type": "nominal"}
          }
        },
        {
          "mark": {"type": "line", "strokeWidth": 2},
          "encoding": {
            "x": {"field": "t", "type": "temporal"},
            "y": {"field": "fee10", "type": "quantitative"},
            "color": {"datum": "Fee Rate = 0.10%", "type": "nominal"}
          }
        }
      ]
    }
  ],
  "resolve": {"scale": {"color": "shared"}}
}
